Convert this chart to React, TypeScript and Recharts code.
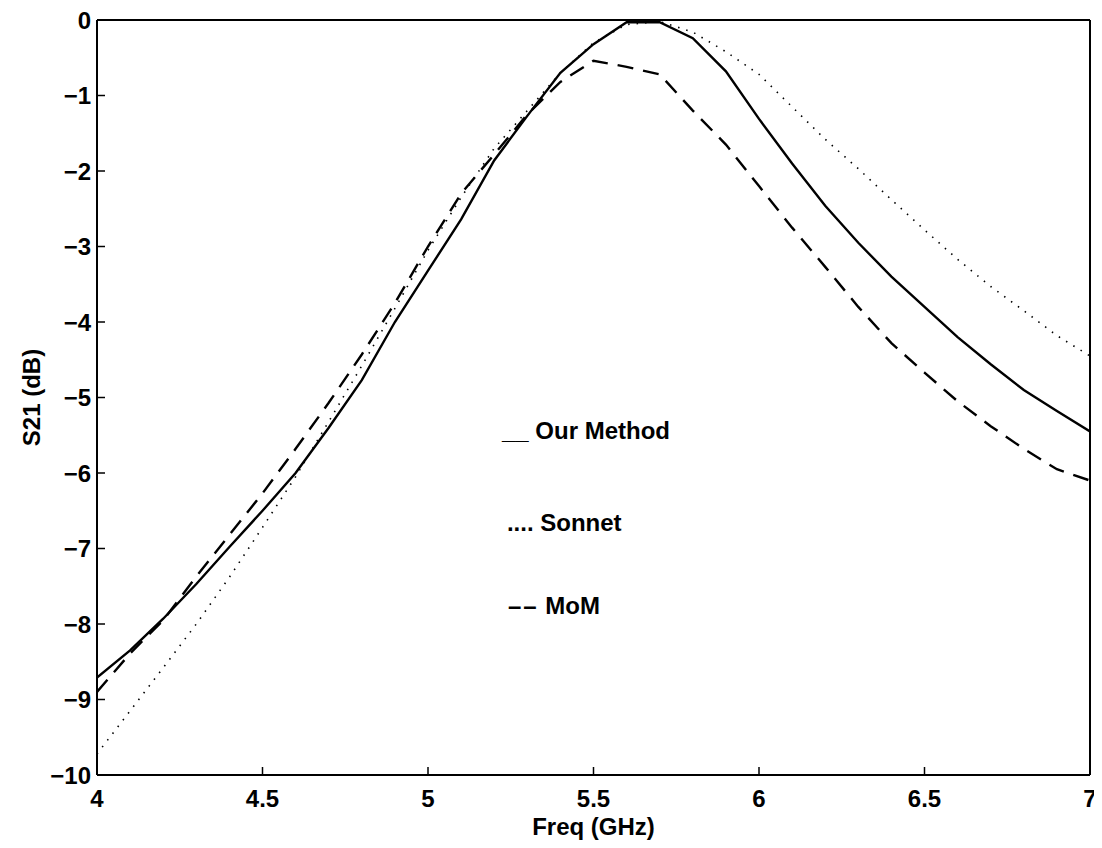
import {
  LineChart,
  Line,
  XAxis,
  YAxis,
  ReferenceDot,
  ReferenceLine,
} from 'recharts';

// frequency sweep (GHz)
const freq = [
  4.0, 4.1, 4.2, 4.3, 4.4, 4.5, 4.6, 4.7, 4.8, 4.9,
  5.0, 5.1, 5.2, 5.3, 5.4, 5.5, 5.6, 5.7, 5.8, 5.9,
  6.0, 6.1, 6.2, 6.3, 6.4, 6.5, 6.6, 6.7, 6.8, 6.9, 7.0,
];

// S21 in dB
const ourMethod = [
  -8.71, -8.35, -7.93, -7.47, -6.98, -6.5, -6.0, -5.4, -4.77, -4.0,
  -3.32, -2.64, -1.86, -1.27, -0.7, -0.32, -0.03, -0.03, -0.24, -0.68,
  -1.31, -1.9, -2.46, -2.95, -3.4, -3.8, -4.2, -4.56, -4.9, -5.18, -5.45,
];

const sonnet = [
  -9.72, -9.15, -8.58, -8.0, -7.38, -6.72, -6.05, -5.32, -4.58, -3.82,
  -3.05, -2.35, -1.7, -1.2, -0.7, -0.3, -0.06, -0.02, -0.16, -0.42,
  -0.72, -1.15, -1.58, -1.97, -2.38, -2.78, -3.17, -3.53, -3.85, -4.18, -4.45,
];

const mom = [
  -8.9, -8.39, -7.95, -7.37, -6.82, -6.27, -5.68, -5.07, -4.43, -3.75,
  -3.0, -2.3, -1.78, -1.25, -0.82, -0.54, -0.62, -0.72, -1.2, -1.65,
  -2.2, -2.75, -3.27, -3.8, -4.28, -4.67, -5.05, -5.38, -5.68, -5.95, -6.1,
];

const xTicks = [4, 4.5, 5, 5.5, 6, 6.5, 7];
const yTicks = [0, -1, -2, -3, -4, -5, -6, -7, -8, -9, -10];

// in-plot text legend (data coords of the text start / baseline)
const notes = [
  { mark: '__', label: 'Our Method', x: 5.225, y: -5.56 },
  { mark: '....', label: 'Sonnet', x: 5.24, y: -6.77 },
  { mark: '\u2013\u2013', label: 'MoM', x: 5.243, y: -7.88 },
];

const data = freq.map((f, i) => ({
  f,
  ours: ourMethod[i],
  sonnet: sonnet[i],
  mom: mom[i],
}));

const FONT = '"Liberation Sans", Arial, Helvetica, sans-serif';
const FS = 24;
const tickStyle = { fill: '#000', fontSize: FS, fontFamily: FONT, fontWeight: 'bold' };
const axisLine = { stroke: '#000', strokeWidth: 2 };
const tickLine = { stroke: '#000', strokeWidth: 1.5 };

const fmt = (v: number) => String(v).replace('-', '\u2212');

export default function App() {
  return (
    <div style={{ width: 1094, height: 832, background: '#fff' }}>
      <style>{'.recharts-surface, .recharts-wrapper { overflow: visible !important; }'}</style>
      <LineChart
        width={1094}
        height={832}
        data={data}
        margin={{ top: 11, right: 11, left: 29, bottom: 5 }}
        style={{ overflow: 'visible' }}
      >
        <XAxis
          dataKey="f"
          type="number"
          domain={[4, 7]}
          ticks={xTicks}
          interval={0}
          allowDataOverflow
          height={60}
          tickSize={-8}
          tickMargin={23}
          tick={tickStyle}
          axisLine={axisLine}
          tickLine={tickLine}
          label={{
            content: ({ viewBox }: any) => (
              <text
                x={viewBox.x + viewBox.width / 2}
                y={viewBox.y + 60}
                textAnchor="middle"
                fontSize={FS}
                fontWeight="bold"
                fontFamily={FONT}
                fill="#000"
              >
                Freq (GHz)
              </text>
            ),
          }}
        />
        <XAxis
          xAxisId="top"
          dataKey="f"
          type="number"
          orientation="top"
          domain={[4, 7]}
          ticks={xTicks}
          interval={0}
          height={1}
          tickSize={-8}
          tick={false}
          axisLine={axisLine}
          tickLine={tickLine}
        />
        <YAxis
          type="number"
          domain={[-10, 0]}
          ticks={yTicks}
          interval={0}
          allowDataOverflow
          width={60}
          tickSize={-8}
          tickMargin={14}
          tick={tickStyle}
          tickFormatter={fmt}
          axisLine={axisLine}
          tickLine={tickLine}
          label={{
            content: ({ viewBox }: any) => {
              const x = viewBox.x + 3;
              const y = viewBox.y + viewBox.height / 2;
              return (
                <text
                  x={x}
                  y={y}
                  transform={`rotate(-90, ${x}, ${y})`}
                  textAnchor="middle"
                  fontSize={FS}
                  fontWeight="bold"
                  fontFamily={FONT}
                  fill="#000"
                >
                  S21 (dB)
                </text>
              );
            },
          }}
        />
        <YAxis
          yAxisId="right"
          orientation="right"
          type="number"
          domain={[-10, 0]}
          ticks={yTicks}
          interval={0}
          width={1}
          tickSize={-8}
          tick={false}
          axisLine={axisLine}
          tickLine={tickLine}
        />
        <ReferenceLine y={0} stroke="#000" strokeWidth={2} />
        <ReferenceLine x={7} stroke="#000" strokeWidth={2} />
        <Line
          dataKey="sonnet"
          type="linear"
          stroke="#000"
          strokeWidth={1.6}
          strokeDasharray="1.5 7"
          dot={false}
          isAnimationActive={false}
        />
        <Line
          dataKey="mom"
          type="linear"
          stroke="#000"
          strokeWidth={2.4}
          strokeDasharray="16 10"
          dot={false}
          isAnimationActive={false}
        />
        <Line
          dataKey="ours"
          type="linear"
          stroke="#000"
          strokeWidth={2.4}
          dot={false}
          isAnimationActive={false}
        />
        {notes.map((n) => (
          <ReferenceDot
            key={n.label}
            x={n.x}
            y={n.y}
            r={0.5}
            fill="none"
            stroke="none"
            label={{
              content: ({ viewBox }: any) => (
                <text
                  x={viewBox.x}
                  y={viewBox.y}
                  fontSize={FS}
                  fontWeight="bold"
                  fontFamily={FONT}
                  fill="#000"
                >
                  <tspan letterSpacing={n.mark === '\u2013\u2013' ? 2 : 0}>{n.mark}</tspan>
                  {' ' + n.label}
                </text>
              ),
            }}
          />
        ))}
      </LineChart>
    </div>
  );
}
